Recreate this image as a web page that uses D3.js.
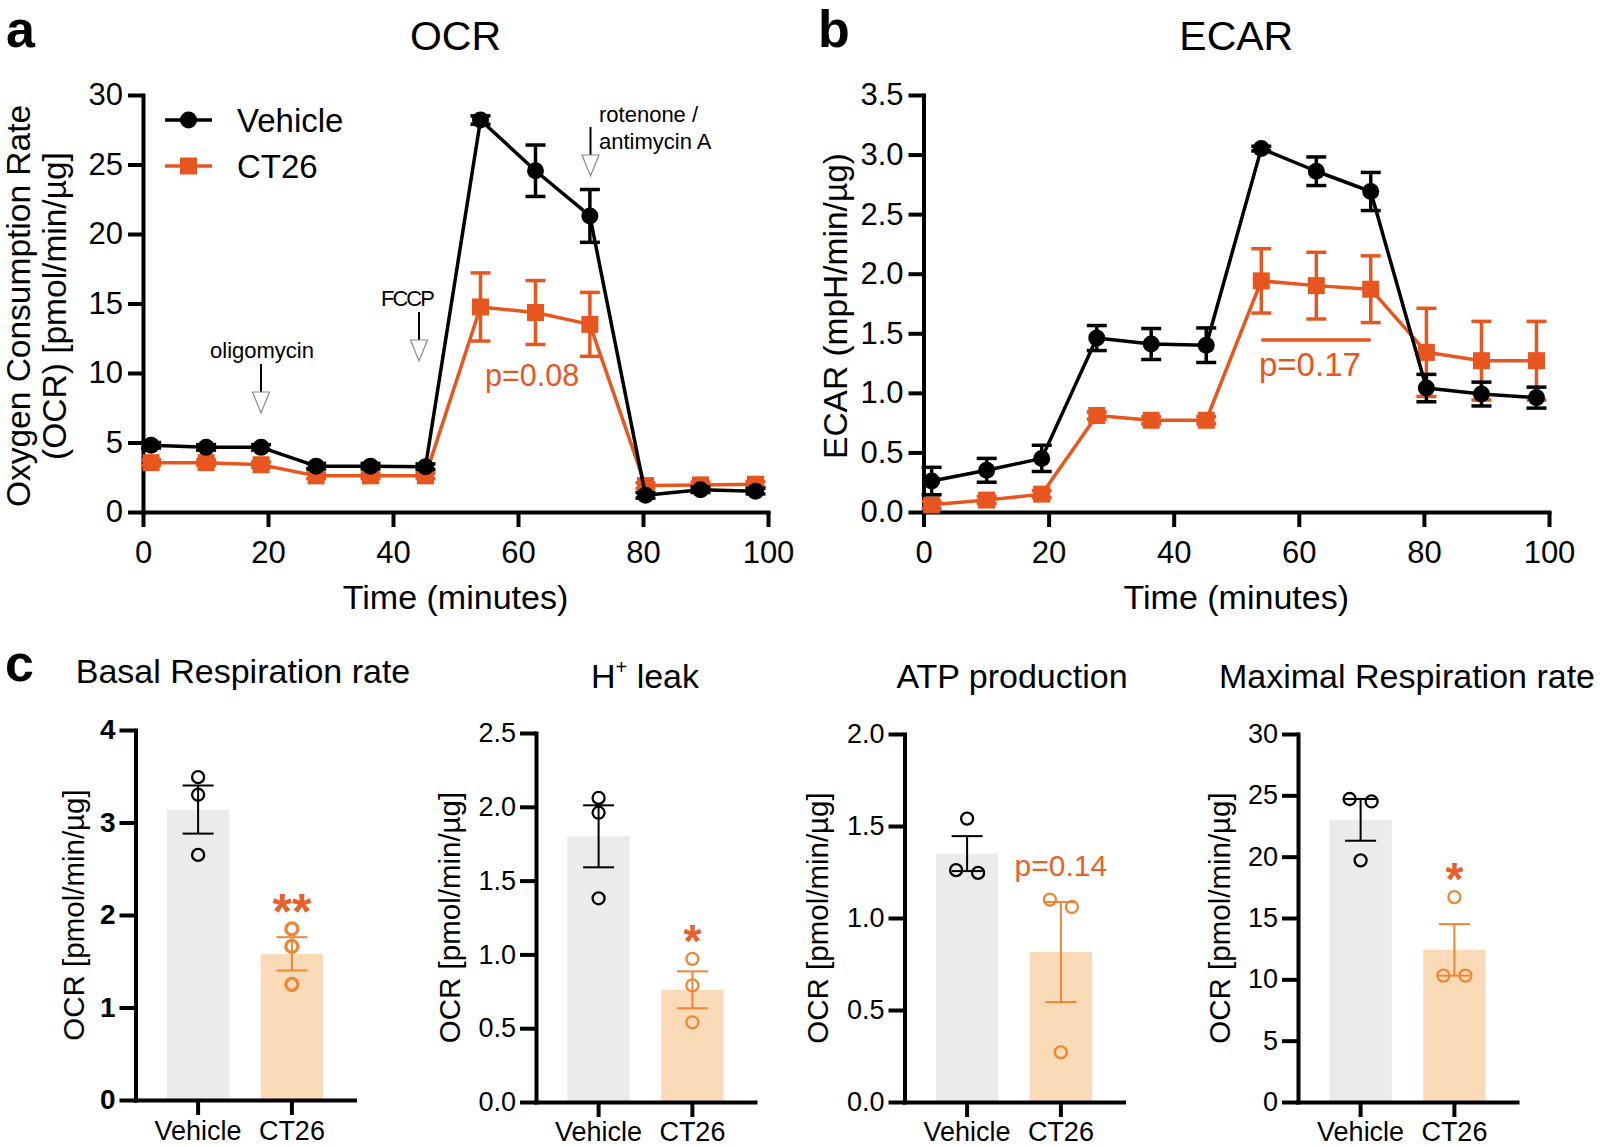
<!DOCTYPE html>
<html><head><meta charset="utf-8">
<script src="https://cdn.jsdelivr.net/npm/d3@7"></script>
<style>
body{margin:0;background:#fff}
svg{display:block}
text{font-family:"Liberation Sans",Arial,Helvetica,sans-serif;fill:#000}
</style>
</head><body>
<svg id="fig" width="1600" height="1147"></svg>
<script>
// ---------------- DATA ----------------
const times = [1.3, 10.1, 18.9, 27.7, 36.4, 45.2, 54.0, 62.8, 71.5, 80.4, 89.2, 98.0];
const timeTicks = [0, 20, 40, 60, 80, 100];

const ocrVehicle    = [4.8, 4.65, 4.65, 3.3, 3.3, 3.26, 28.2, 24.55, 21.3, 1.2, 1.6, 1.5];
const ocrVehicleErr = [0.2, 0.2, 0.2, 0.2, 0.2, 0.2, 0.3, 1.85, 1.9, 0.2, 0.2, 0.2];
const ocrCT26       = [3.55, 3.55, 3.4, 2.6, 2.6, 2.6, 14.75, 14.35, 13.5, 1.9, 1.95, 2.0];
const ocrCT26Err    = [0.2, 0.2, 0.2, 0.2, 0.2, 0.2, 2.45, 2.3, 2.3, 0.2, 0.2, 0.2];
const ocrTicks = [0, 5, 10, 15, 20, 25, 30];

const ecarVehicle    = [0.26, 0.35, 0.45, 1.46, 1.41, 1.40, 3.05, 2.86, 2.69, 1.04, 0.99, 0.96];
const ecarVehicleErr = [0.115, 0.10, 0.11, 0.105, 0.13, 0.145, 0.02, 0.12, 0.16, 0.115, 0.10, 0.088];
const ecarCT26       = [0.06, 0.10, 0.15, 0.81, 0.77, 0.77, 1.94, 1.90, 1.87, 1.34, 1.27, 1.27];
const ecarCT26Err    = [0.03, 0.03, 0.03, 0.03, 0.03, 0.03, 0.27, 0.28, 0.28, 0.37, 0.33, 0.33];
const ecarTicks = [0, 0.5, 1.0, 1.5, 2.0, 2.5, 3.0, 3.5];

const groups = ["Vehicle", "CT26"];

const basalMean = [3.14, 1.58];
const basalSem  = [0.26, 0.18];
const basalPoints = [[3.49, 3.30, 2.65], [1.85, 1.66, 1.25]];
const basalTicks = [0, 1, 2, 3, 4];

const leakMean = [1.80, 0.76];
const leakSem  = [0.21, 0.125];
const leakPoints = [[2.06, 1.96, 1.38], [0.97, 0.79, 0.54]];
const leakTicks = [0, 0.5, 1.0, 1.5, 2.0, 2.5];

const atpMean = [1.35, 0.815];
const atpSem  = [0.095, 0.272];
const atpPoints = [[1.54, 1.26, 1.245], [1.10, 1.06, 0.27]];
const atpTicks = [0, 0.5, 1.0, 1.5, 2.0];

const maxMean = [23.0, 12.4];
const maxSem  = [1.7, 2.1];
const maxPoints = [[24.7, 24.5, 19.7], [16.7, 10.3, 10.3]];
const maxTicks = [0, 5, 10, 15, 20, 25, 30];

const sigLabels = ["**", "*", "p=0.14", "*"];

// ---------------- STYLE ----------------
const BLACK = "#000";
const ORANGE = "#E8561F";
const ORANGE_PT = "#EE8636";
const ORANGE_SIG = "#E9602B";
const FILL_VEH = "#EDEBEA";
const FILL_CT = "#FBDBB7";

const svg = d3.select("#fig");

// ---------------- TIME COURSE PANELS ----------------
function timePanel(o) {
  const x = d3.scaleLinear().domain([0, 100]).range([o.x0, o.x1]);
  const y = d3.scaleLinear().domain([0, o.ymax]).range([o.yb, o.yt]);
  const g = svg.append("g");

  const ax = g.append("g").attr("transform", `translate(0,${o.yb})`)
    .call(d3.axisBottom(x).tickValues(timeTicks).tickSize(15).tickSizeOuter(0).tickPadding(14));
  const ay = g.append("g").attr("transform", `translate(${o.x0},0)`)
    .call(d3.axisLeft(y).tickValues(o.ticks).tickFormat(o.fmt).tickSize(15).tickSizeOuter(0).tickPadding(5));
  [ax, ay].forEach(a => {
    a.select(".domain").attr("stroke", BLACK).attr("stroke-width", 4).attr("stroke-linecap", "square");
    a.selectAll(".tick line").attr("stroke", BLACK).attr("stroke-width", 4);
    a.selectAll(".tick text").attr("font-size", 31).attr("fill", BLACK);
  });

  const line = d3.line().x((d, i) => x(times[i])).y(d => y(d));
  const series = [
    {v: o.ct, e: o.ctErr, color: ORANGE, shape: "square"},
    {v: o.veh, e: o.vehErr, color: BLACK, shape: "circle"}
  ];
  series.forEach(s => {
    g.append("path").datum(s.v).attr("d", line).attr("fill", "none")
      .attr("stroke", s.color).attr("stroke-width", 3.5).attr("stroke-linejoin", "round");
    const eb = g.append("g").attr("stroke", s.color).attr("stroke-width", 3.5);
    s.v.forEach((v, i) => {
      const cx = x(times[i]), lo = y(v - s.e[i]), hi = y(v + s.e[i]);
      eb.append("line").attr("x1", cx).attr("x2", cx).attr("y1", lo).attr("y2", hi);
      eb.append("line").attr("x1", cx - 10).attr("x2", cx + 10).attr("y1", lo).attr("y2", lo);
      eb.append("line").attr("x1", cx - 10).attr("x2", cx + 10).attr("y1", hi).attr("y2", hi);
    });
    s.v.forEach((v, i) => {
      if (s.shape === "circle") {
        g.append("circle").attr("cx", x(times[i])).attr("cy", y(v)).attr("r", 8.5).attr("fill", s.color);
      } else {
        g.append("rect").attr("x", x(times[i]) - 8.5).attr("y", y(v) - 8.5)
          .attr("width", 17).attr("height", 17).attr("fill", s.color);
      }
    });
  });

  g.append("text").attr("x", (o.x0 + o.x1) / 2).attr("y", 50).attr("text-anchor", "middle")
    .attr("font-size", 41).text(o.title);
  g.append("text").attr("x", (o.x0 + o.x1) / 2).attr("y", 609).attr("text-anchor", "middle")
    .attr("font-size", 34).text("Time (minutes)");
  return {x, y, g};
}

const A = timePanel({x0: 143, x1: 768, yb: 512, yt: 95, ymax: 30, ticks: ocrTicks, fmt: d3.format("d"),
  veh: ocrVehicle, vehErr: ocrVehicleErr, ct: ocrCT26, ctErr: ocrCT26Err, title: "OCR"});
const B = timePanel({x0: 923.5, x1: 1549, yb: 512, yt: 95, ymax: 3.5, ticks: ecarTicks, fmt: d3.format(".1f"),
  veh: ecarVehicle, vehErr: ecarVehicleErr, ct: ecarCT26, ctErr: ecarCT26Err, title: "ECAR"});

// panel letters
svg.append("text").attr("x", 6).attr("y", 47).attr("font-size", 52).attr("font-weight", "bold").text("a");
svg.append("text").attr("x", 818).attr("y", 47).attr("font-size", 52).attr("font-weight", "bold").text("b");
svg.append("text").attr("x", 5).attr("y", 681).attr("font-size", 52).attr("font-weight", "bold").text("c");

// y titles of a and b
svg.append("text").attr("transform", "translate(30,306) rotate(-90)").attr("text-anchor", "middle")
  .attr("font-size", 33.5).text("Oxygen Consumption Rate");
svg.append("text").attr("transform", "translate(66,306) rotate(-90)").attr("text-anchor", "middle")
  .attr("font-size", 33.5).text("(OCR) [pmol/min/\u00B5g]");
svg.append("text").attr("transform", "translate(847,306) rotate(-90)").attr("text-anchor", "middle")
  .attr("font-size", 33.5).text("ECAR (mpH/min/\u00B5g)");

// legend (panel a)
const leg = svg.append("g");
[{name: "Vehicle", color: BLACK, shape: "circle", y: 120}, {name: "CT26", color: ORANGE, shape: "square", y: 166}]
.forEach(d => {
  leg.append("line").attr("x1", 165).attr("x2", 212).attr("y1", d.y).attr("y2", d.y)
    .attr("stroke", d.color).attr("stroke-width", 3.5);
  if (d.shape === "circle") leg.append("circle").attr("cx", 188.5).attr("cy", d.y).attr("r", 8.5).attr("fill", d.color);
  else leg.append("rect").attr("x", 180).attr("y", d.y - 8.5).attr("width", 17).attr("height", 17).attr("fill", d.color);
  leg.append("text").attr("x", 237).attr("y", d.y + 12).attr("font-size", 33).text(d.name);
});

// annotation arrows
function arrow(x, y1, y2) {
  svg.append("line").attr("x1", x).attr("x2", x).attr("y1", y1).attr("y2", y2)
    .attr("stroke", BLACK).attr("stroke-width", 2);
  svg.append("path").attr("d", `M${x - 8.5},${y2} L${x + 8.5},${y2} L${x},${y2 + 21} Z`)
    .attr("fill", "#fff").attr("stroke", "#8a8a8a").attr("stroke-width", 1.2);
}
svg.append("text").attr("x", 262).attr("y", 358).attr("text-anchor", "middle").attr("font-size", 22).text("oligomycin");
arrow(261, 364, 392);
svg.append("text").attr("x", 407).attr("y", 306).attr("text-anchor", "middle").attr("font-size", 22)
  .attr("letter-spacing", -2).text("FCCP");
arrow(419, 312, 340);
svg.append("text").attr("x", 599).attr("y", 122).attr("font-size", 22).text("rotenone /");
svg.append("text").attr("x", 599).attr("y", 149).attr("font-size", 22).text("antimycin A");
arrow(590.5, 127, 155);

// p values in a and b
svg.append("text").attr("x", 485).attr("y", 386).attr("font-size", 30.5).style("fill", ORANGE).text("p=0.08");
svg.append("line").attr("x1", B.x(54.0)).attr("x2", B.x(71.5)).attr("y1", 340).attr("y2", 340)
  .attr("stroke", ORANGE).attr("stroke-width", 3.5);
svg.append("text").attr("x", 1259).attr("y", 376).attr("font-size", 33).style("fill", ORANGE).text("p=0.17");

// ---------------- BAR PANELS ----------------
const barCfg = [
  {title: "Basal Respiration rate", mean: basalMean, sem: basalSem, pts: basalPoints, ticks: basalTicks,
   fmt: d3.format("d"), bold: true, ax: 135.5, yt: 730, yb: 1100, tx: 243, ty: 683, ylab: 52, ptw: 3.3},
  {title: "H+ leak", mean: leakMean, sem: leakSem, pts: leakPoints, ticks: leakTicks,
   fmt: d3.format(".1f"), bold: false, ax: 536, yt: 733, yb: 1102, tx: 645, ty: 688, ylab: 76, ptw: 2.3},
  {title: "ATP production", mean: atpMean, sem: atpSem, pts: atpPoints, ticks: atpTicks,
   fmt: d3.format(".1f"), bold: false, ax: 904.5, yt: 734, yb: 1102, tx: 1012, ty: 688, ylab: 77, ptw: 2.3},
  {title: "Maximal Respiration rate", mean: maxMean, sem: maxSem, pts: maxPoints, ticks: maxTicks,
   fmt: d3.format("d"), bold: false, ax: 1298, yt: 734, yb: 1102, tx: 1407, ty: 688, ylab: 68, ptw: 2.3}
];

barCfg.forEach((c, ci) => {
  const g = svg.append("g");
  const x = d3.scaleBand().domain(groups).range([c.ax, c.ax + 219]).paddingInner(0.335).paddingOuter(0.335);
  const ymax = c.ticks[c.ticks.length - 1];
  const y = d3.scaleLinear().domain([0, ymax]).range([c.yb, c.yt]);

  g.selectAll("rect.bar").data(groups).join("rect")
    .attr("x", d => x(d)).attr("width", x.bandwidth())
    .attr("y", (d, i) => y(c.mean[i])).attr("height", (d, i) => y(0) - y(c.mean[i]))
    .attr("fill", (d, i) => i === 0 ? FILL_VEH : FILL_CT);

  groups.forEach((gname, i) => {
    const cx = x(gname) + x.bandwidth() / 2;
    const col = i === 0 ? BLACK : ORANGE_PT;
    const lo = y(c.mean[i] - c.sem[i]), hi = y(c.mean[i] + c.sem[i]);
    g.append("line").attr("x1", cx).attr("x2", cx).attr("y1", lo).attr("y2", hi).attr("stroke", col).attr("stroke-width", 2);
    [lo, hi].forEach(yy => g.append("line").attr("x1", cx - 15.5).attr("x2", cx + 15.5)
      .attr("y1", yy).attr("y2", yy).attr("stroke", col).attr("stroke-width", 2));
  });

  groups.forEach((gname, i) => {
    const cx = x(gname) + x.bandwidth() / 2;
    const col = i === 0 ? BLACK : ORANGE_PT;
    const ys = c.pts[i].map(v => y(v));
    const offs = ys.map(() => 0);
    for (let a = 0; a < ys.length; a++) for (let b = a + 1; b < ys.length; b++) {
      if (Math.abs(ys[a] - ys[b]) < 12 && offs[a] === 0 && offs[b] === 0) { offs[a] = -11; offs[b] = 11; }
    }
    ys.forEach((yy, k) => g.append("circle").attr("cx", cx + offs[k]).attr("cy", yy).attr("r", 6)
      .attr("fill", "none").attr("stroke", col).attr("stroke-width", i === 1 ? c.ptw : 2.3));
  });

  const ay = g.append("g").attr("transform", `translate(${c.ax},0)`)
    .call(d3.axisLeft(y).tickValues(c.ticks).tickFormat(c.fmt).tickSize(16).tickSizeOuter(0).tickPadding(4));
  const ax = g.append("g").attr("transform", `translate(0,${c.yb})`)
    .call(d3.axisBottom(x).tickSize(15).tickSizeOuter(0).tickPadding(ci === 0 ? 6 : 5));
  [ax, ay].forEach(a => {
    a.select(".domain").attr("stroke", BLACK).attr("stroke-width", 4).attr("stroke-linecap", "square");
    a.selectAll(".tick line").attr("stroke", BLACK).attr("stroke-width", 4);
    a.selectAll(".tick text").attr("font-size", 27).attr("fill", BLACK);
  });
  if (c.bold) ay.selectAll(".tick text").attr("font-weight", "bold").attr("font-size", 28);

  g.append("text").attr("transform", `translate(${c.ax - c.ylab},${(c.yt + c.yb) / 2}) rotate(-90)`)
    .attr("text-anchor", "middle").attr("font-size", 29.5).text("OCR [pmol/min/\u00B5g]");

  const t = g.append("text").attr("x", c.tx).attr("y", c.ty).attr("text-anchor", "middle").attr("font-size", 34);
  if (c.title === "H+ leak") {
    t.append("tspan").text("H");
    t.append("tspan").attr("font-size", 20).attr("dy", -14).text("+");
    t.append("tspan").attr("dy", 14).text(" leak");
  } else t.text(c.title);

  const cxCT = x("CT26") + x.bandwidth() / 2;
  const topPt = y(d3.max(c.pts[1]));
  const lab = sigLabels[ci];
  if (lab.startsWith("p")) {
    g.append("text").attr("x", cxCT).attr("y", topPt - 35 + 11).attr("text-anchor", "middle")
      .attr("font-size", 30).style("fill", ORANGE_SIG).text(lab);
  } else {
    const fs = lab.length > 1 ? 50 : 46;
    g.append("text").attr("x", cxCT).attr("y", topPt - 28 + 0.56 * fs).attr("text-anchor", "middle")
      .attr("font-size", fs).attr("font-weight", "bold").style("fill", ORANGE_SIG).text(lab);
  }
});
</script>
</body></html>
